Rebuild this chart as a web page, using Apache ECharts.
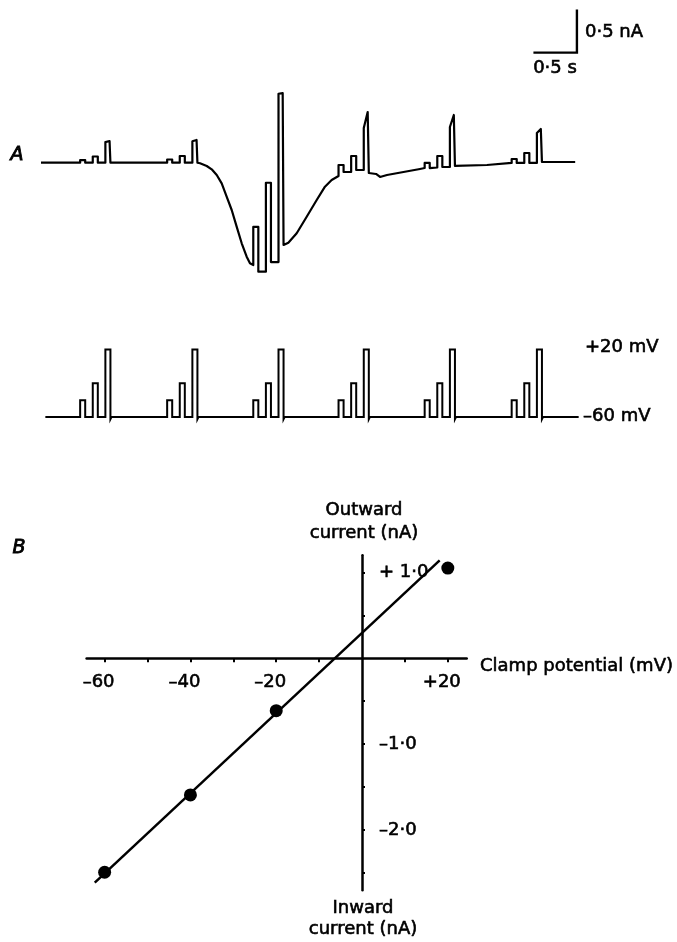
<!DOCTYPE html>
<html>
<head>
<meta charset="utf-8">
<script src="https://cdn.jsdelivr.net/npm/echarts@6.0.0/dist/echarts.min.js"></script>
<style>
html,body{margin:0;padding:0;background:#fff;}
#chart{width:677px;height:942px;}
</style>
</head>
<body>
<div id="chart"></div>
<script>
// ---------- Panel A: membrane current trace (time in s, current in nA relative to holding) ----------
const curT = [0,0.45,0.45,0.508,0.508,0.595,0.595,0.653,0.653,0.74,0.74,0.75,0.788,0.798,0.798,
  1.45,1.45,1.508,1.508,1.595,1.595,1.653,1.653,1.74,1.74,1.75,1.788,1.798,1.798,
  1.828,1.905,1.962,2.020,2.077,2.134,2.192,2.249,2.307,2.364,2.402,
  2.44,2.44,2.498,2.498,2.585,2.585,2.643,2.643,2.73,2.73,2.74,2.778,2.788,2.788,
  2.843,2.939,3.054,3.169,3.264,3.341,
  3.42,3.42,3.478,3.478,3.565,3.565,3.623,3.623,3.71,3.71,3.755,3.768,3.768,
  3.851,3.897,3.977,4.356,
  4.41,4.41,4.468,4.468,4.555,4.555,4.613,4.613,4.70,4.70,4.745,4.758,4.758,
  5.126,
  5.41,5.41,5.468,5.468,5.555,5.555,5.613,5.613,5.70,5.70,5.745,5.758,5.758,
  6.14];
const curI = [0,0,0.031,0.031,0,0,0.072,0.072,0,0,0.24,0.252,0.252,0.24,0,
  0,0.037,0.037,0,0,0.078,0.078,0,0,0.25,0.264,0.264,0.25,0,
  -0.007,-0.038,-0.077,-0.143,-0.240,-0.395,-0.550,-0.744,-0.937,-1.093,-1.170,
  -1.19,-0.747,-0.747,-1.267,-1.267,-0.233,-0.233,-1.155,-1.155,0.80,0.81,0.81,0.80,-0.957,
  -0.930,-0.821,-0.628,-0.434,-0.279,-0.201,
  -0.155,-0.027,-0.027,-0.108,-0.108,0.078,0.078,-0.085,-0.085,0.403,0.589,0.589,-0.120,
  -0.131,-0.166,-0.143,-0.073,
  -0.062,-0.003,-0.003,-0.062,-0.056,0.078,0.078,-0.050,-0.050,0.415,0.555,0.555,-0.038,
  -0.027,
  -0.003,0.043,0.043,-0.003,-0.003,0.113,0.113,-0.003,-0.003,0.345,0.392,0.392,0.008,
  0.008];

// ---------- Panel A: voltage command (s, mV) ----------
const groupStart = [0.45, 1.45, 2.44, 3.42, 4.41, 5.41];
const stepOffset = [0, 0.145, 0.29];
const stepLevel = [-40, -20, 20];
const stepWidth = 0.058;
const holdingPotential = -60;
const tailDip = -62.5;
const voltageStart = 0.05, voltageEnd = 6.18;

// scale bars (0.5 s, 0.5 nA)
const scaleBarT = [5.66, 6.16];
const scaleBarI = [1.28, 1.78];

// ---------- Panel B: I-V relation ----------
const clampPotential = [-60, -40, -20, 20];
const peakCurrent = [-2.49, -1.59, -0.61, 1.05];
const fitX = [-62.3, 18.1];
const fitY = [-2.61, 1.14];
const xTickVals = [-60, -50, -40, -30, -20, -10, 10, 20];
const xLabelVals = [-60, -40, -20, 20];
const yTickVals = [-2.5, -2, -1.5, -1, -0.5, 0.5, 1];
const yLabelVals = [1, -1, -2];

// build series data
const currentData = curT.map((t, i) => [t, curI[i]]);
const voltageData = [[voltageStart, holdingPotential]];
groupStart.forEach(g => {
  stepOffset.forEach((o, k) => {
    const on = g + o, off = on + stepWidth;
    voltageData.push([on, holdingPotential], [on, stepLevel[k]], [off, stepLevel[k]]);
    if (k === stepOffset.length - 1) {
      voltageData.push([off, tailDip], [off + 0.012, holdingPotential]);
    } else {
      voltageData.push([off, holdingPotential]);
    }
  });
});
voltageData.push([voltageEnd, holdingPotential]);
const scaleData = [[scaleBarT[0], scaleBarI[0]], [scaleBarT[1], scaleBarI[0]], [scaleBarT[1], scaleBarI[1]]];
const fitData = fitX.map((x, i) => [x, fitY[i]]);
const pointData = clampPotential.map((x, i) => [x, peakCurrent[i]]);

const FONT = '"DejaVu Sans", sans-serif';
const fmtNum = v => (v < 0 ? '\u2013' : '+') + String(Math.abs(v));
const fmtCur = v => (v > 0 ? '+ ' : '\u2013') + Math.abs(v).toFixed(1).replace('.', '\u00b7');

function txt(text, x, y, align, opts) {
  return {
    type: 'text', x: x, y: y, silent: true,
    style: Object.assign({
      text: text, font: '18px ' + FONT, fill: '#000', stroke: '#000', lineWidth: 0.6,
      textAlign: align || 'left', textVerticalAlign: 'middle',
      align: align || 'left', verticalAlign: 'middle'
    }, (opts || {}))
  };
}

const chart = echarts.init(document.getElementById('chart'), null, {renderer: 'canvas'});
const black = '#000';
const hiddenAxis = {show: false};
// Panel B geometry: x 0 mV at px 362, y 0 nA at px 658.3
chart.setOption({
  animation: false,
  backgroundColor: '#fff',
  grid: [
    {left: 41, top: 7.9, width: 565.5, height: 266.6},
    {left: 41, top: 341.1, width: 565.5, height: 84.4},
    {left: 86.6, top: 555.2, width: 380.1, height: 103.1},
    {left: 362, top: 555.2, width: 104.7, height: 335}
  ],
  xAxis: [
    Object.assign({type: 'value', gridIndex: 0, min: 0, max: 6.5}, hiddenAxis),
    Object.assign({type: 'value', gridIndex: 1, min: 0, max: 6.5}, hiddenAxis),
    {
      type: 'value', gridIndex: 2, min: -64.2, max: 24.4, position: 'bottom',
      axisLine: {show: true, onZero: false, lineStyle: {color: black, width: 2.5}},
      axisTick: {show: true, customValues: xTickVals, length: 4, lineStyle: {color: black, width: 2}},
      axisLabel: {show: true, customValues: xLabelVals, formatter: fmtNum, color: black,
        fontFamily: FONT, fontSize: 18, margin: 15, padding: [0, 12, 0, 0],
        textBorderColor: black, textBorderWidth: 0.6},
      splitLine: {show: false}
    },
    Object.assign({type: 'value', gridIndex: 3, min: 0, max: 24.4}, hiddenAxis)
  ],
  yAxis: [
    Object.assign({type: 'value', gridIndex: 0, min: -1.3, max: 1.8}, hiddenAxis),
    Object.assign({type: 'value', gridIndex: 1, min: -70, max: 30}, hiddenAxis),
    Object.assign({type: 'value', gridIndex: 2, min: 0, max: 1.2}, hiddenAxis),
    {
      type: 'value', gridIndex: 3, min: -2.7, max: 1.2, position: 'left',
      axisLine: {show: true, onZero: false, lineStyle: {color: black, width: 2.5}},
      axisTick: {show: true, inside: true, customValues: yTickVals, length: 3, lineStyle: {color: black, width: 2}},
      axisLabel: {show: true, inside: true, customValues: yLabelVals, formatter: fmtCur, color: black,
        fontFamily: FONT, fontSize: 18, margin: 17, textBorderColor: black, textBorderWidth: 0.6},
      splitLine: {show: false}
    }
  ],
  series: [
    {type: 'line', xAxisIndex: 0, yAxisIndex: 0, data: currentData, showSymbol: false, clip: false,
      lineStyle: {color: black, width: 2.2, join: 'round'}},
    {type: 'line', xAxisIndex: 0, yAxisIndex: 0, data: scaleData, showSymbol: false, clip: false,
      lineStyle: {color: black, width: 2.4, join: 'miter'}},
    {type: 'line', xAxisIndex: 1, yAxisIndex: 1, data: voltageData, showSymbol: false, clip: false,
      lineStyle: {color: black, width: 2, join: 'miter'}},
    {type: 'line', xAxisIndex: 2, yAxisIndex: 2, data: fitData, showSymbol: false, clip: false,
      lineStyle: {color: black, width: 2.5}},
    {type: 'scatter', xAxisIndex: 2, yAxisIndex: 2, data: pointData, symbolSize: 13, clip: false,
      itemStyle: {color: black, opacity: 1}}
  ],
  graphic: [
    txt('0\u00b75 nA', 585, 32),
    txt('0\u00b75 s', 555, 68, 'center'),
    txt('A', 17, 155, 'center', {font: 'italic 19px ' + FONT, lineWidth: 0.9}),
    txt('+20 mV', 585, 347),
    txt('\u201360 mV', 583, 416),
    txt('B', 19, 548, 'center', {font: 'italic 19px ' + FONT, lineWidth: 0.9}),
    txt('Outward', 364, 510, 'center'),
    txt('current (nA)', 364, 533, 'center'),
    txt('Clamp potential (mV)', 480, 666),
    txt('Inward', 363, 908, 'center'),
    txt('current (nA)', 363, 929, 'center')
  ]
});
</script>
</body>
</html>
